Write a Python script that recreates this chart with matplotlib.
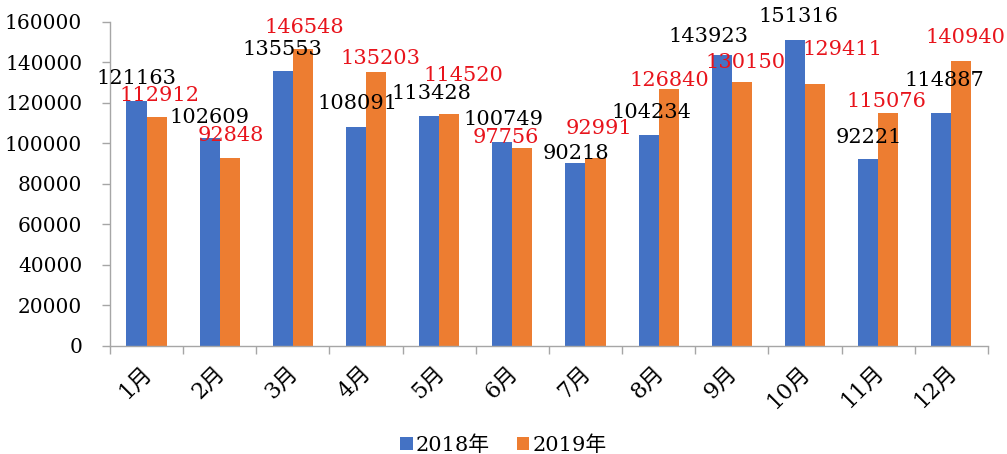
import matplotlib
matplotlib.use("Agg")
import matplotlib.pyplot as plt
import matplotlib.transforms as mtransforms
import numpy as np

plt.rcParams['font.family'] = ['DejaVu Serif', 'Noto Sans CJK SC']

months = ["1月", "2月", "3月", "4月", "5月", "6月", "7月", "8月", "9月", "10月", "11月", "12月"]
series_names = ["2018年", "2019年"]
v2018 = [121163, 102609, 135553, 108091, 113428, 100749, 90218, 104234, 143923, 151316, 92221, 114887]
v2019 = [112912, 92848, 146548, 135203, 114520, 97756, 92991, 126840, 130150, 129411, 115076, 140940]
yticks = [0, 20000, 40000, 60000, 80000, 100000, 120000, 140000, 160000]

# label offsets (pixels) from the top-centre of each bar, as placed in the reference
off2018_dx = [0, 0, 0, 1.5, 2.5, 1.5, 0, 2.5, -13.5, 3.5, 1, 3]
off2018_dy = [22.6, 21, 21.5, 24, 23, 22, 10, 22, 18, 22.6, 22, 33]
off2019_dx = [2.5, 1.5, 1.5, 4.5, 14, -16.5, 3.5, 0.5, 3.5, 27.5, -1.5, 4.5]
off2019_dy = [22, 22, 22, 14, 39, 11, 28.7, 9, 20, 34, 11, 22.6]

blue = "#4472C4"
orange = "#ED7D31"
red = "#E8141C"
axis_grey = "#A6A6A6"

fig = plt.figure(figsize=(10.07, 4.54), dpi=100)
ax = fig.add_axes([0.1092, 0.2379, 0.8718, 0.7137])

x = np.arange(len(months))
w = 0.274
b1 = ax.bar(x - w / 2, v2018, w, color=blue, label=series_names[0])
b2 = ax.bar(x + w / 2, v2019, w, color=orange, label=series_names[1])

fs = 15
for xi, v, dx, dy in zip(x - w / 2, v2018, off2018_dx, off2018_dy):
    ax.annotate(f"{v}", (xi, v), xytext=(dx, dy), textcoords="offset pixels",
                ha="center", va="center", fontsize=fs, color="black")
for xi, v, dx, dy in zip(x + w / 2, v2019, off2019_dx, off2019_dy):
    ax.annotate(f"{v}", (xi, v), xytext=(dx, dy), textcoords="offset pixels",
                ha="center", va="center", fontsize=fs, color=red)

ax.set_xlim(-0.5, len(months) - 0.5)
ax.set_ylim(0, 160000)
ax.set_yticks(yticks)
ax.set_yticklabels([str(t) for t in yticks], fontsize=14.5)

ax.set_xticks(x)
ax.set_xticklabels(months, fontsize=16, rotation=45, ha="right", rotation_mode="anchor")
ax.tick_params(axis="x", which="major", length=0, pad=11)
shift = mtransforms.ScaledTranslation(-6 / 100, 0, fig.dpi_scale_trans)
for lab in ax.get_xticklabels():
    lab.set_transform(lab.get_transform() + shift)
ax.set_xticks(np.arange(-0.5, len(months), 1.0), minor=True)
ax.tick_params(axis="x", which="minor", length=6, color=axis_grey, width=1)
ax.tick_params(axis="y", length=6, color=axis_grey, width=1, pad=14)

for s in ["top", "right"]:
    ax.spines[s].set_visible(False)
for s in ["left", "bottom"]:
    ax.spines[s].set_color(axis_grey)
    ax.spines[s].set_linewidth(1)

fig.legend(handles=[b1, b2], labels=series_names, loc="center",
           bbox_to_anchor=(0.5, 0.02), ncol=2, frameon=False, fontsize=15,
           handlelength=0.6, handleheight=0.6, handletextpad=0.15, columnspacing=1.3)

fig.savefig("out.png", dpi=100)
